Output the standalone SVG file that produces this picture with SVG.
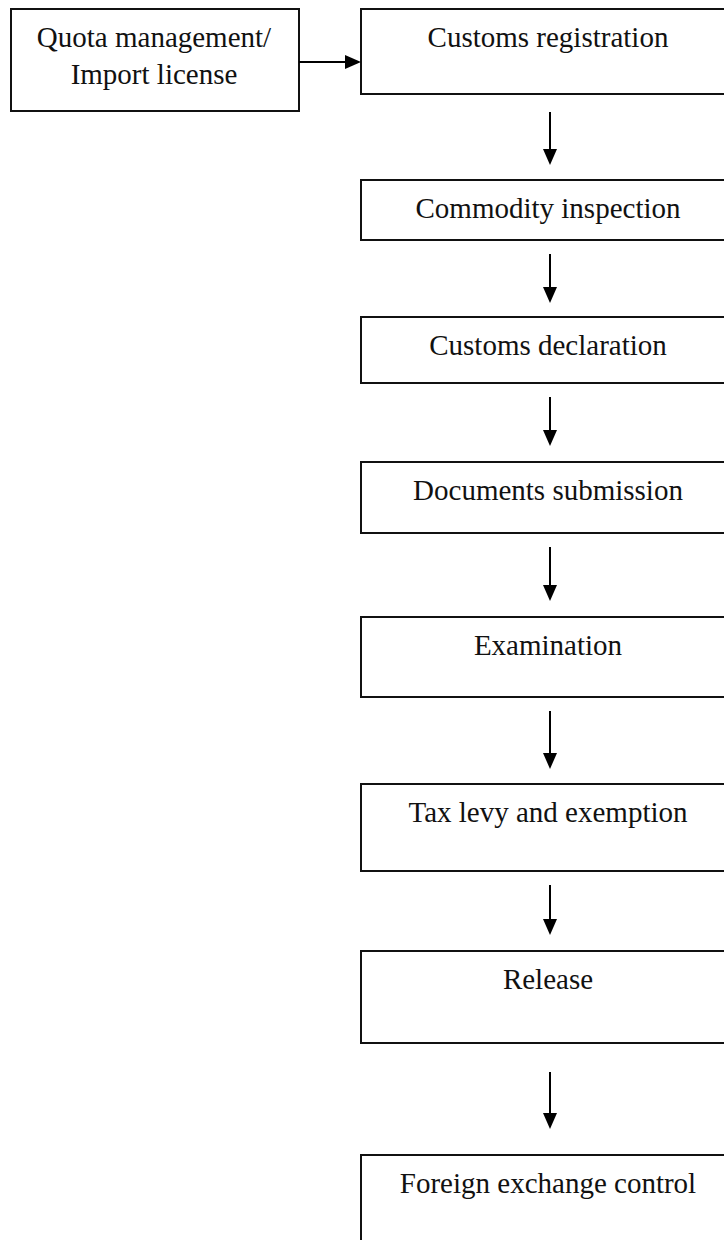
<svg xmlns="http://www.w3.org/2000/svg" width="724" height="1240" viewBox="0 0 724 1240">
  <style>
    .box { fill: #ffffff; stroke: #111111; stroke-width: 2; }
    .lbl { font-family: "Liberation Serif", "Times New Roman", serif; font-size: 29px; fill: #111111; text-anchor: middle; }
    .conn { stroke: #000000; stroke-width: 2; fill: none; marker-end: url(#arrow); }
  </style>
  <defs>
    <marker id="arrow" markerUnits="userSpaceOnUse" markerWidth="16" markerHeight="14" refX="8" refY="7" orient="auto">
      <path d="M0,0 L16,7 L0,14 z" fill="#000000"/>
    </marker>
  </defs>
  <rect x="0" y="0" width="724" height="1240" fill="#ffffff"/>

  <g id="n-quota">
    <rect class="box" x="11" y="9" width="288" height="102"/>
    <text class="lbl" x="154" y="47">Quota management/</text>
    <text class="lbl" x="154" y="84">Import license</text>
  </g>
  <g id="n-registration">
    <rect class="box" x="361" y="9" width="380" height="85"/>
    <text class="lbl" x="548" y="47">Customs registration</text>
  </g>
  <g id="n-inspection">
    <rect class="box" x="361" y="180" width="380" height="60"/>
    <text class="lbl" x="548" y="218">Commodity inspection</text>
  </g>
  <g id="n-declaration">
    <rect class="box" x="361" y="317" width="380" height="66"/>
    <text class="lbl" x="548" y="355">Customs declaration</text>
  </g>
  <g id="n-documents">
    <rect class="box" x="361" y="462" width="380" height="71"/>
    <text class="lbl" x="548" y="500">Documents submission</text>
  </g>
  <g id="n-examination">
    <rect class="box" x="361" y="617" width="380" height="80"/>
    <text class="lbl" x="548" y="655">Examination</text>
  </g>
  <g id="n-tax">
    <rect class="box" x="361" y="784" width="380" height="87"/>
    <text class="lbl" x="548" y="822">Tax levy and exemption</text>
  </g>
  <g id="n-release">
    <rect class="box" x="361" y="951" width="380" height="92"/>
    <text class="lbl" x="548" y="989">Release</text>
  </g>
  <g id="n-forex">
    <rect class="box" x="361" y="1155" width="380" height="100"/>
    <text class="lbl" x="548" y="1193">Foreign exchange control</text>
  </g>

  <g id="connectors">
    <line class="conn" x1="299" y1="62" x2="353" y2="62"/>
    <line class="conn" x1="550" y1="112" x2="550" y2="157"/>
    <line class="conn" x1="550" y1="254" x2="550" y2="295"/>
    <line class="conn" x1="550" y1="397" x2="550" y2="438"/>
    <line class="conn" x1="550" y1="547" x2="550" y2="593"/>
    <line class="conn" x1="550" y1="711" x2="550" y2="761"/>
    <line class="conn" x1="550" y1="885" x2="550" y2="927"/>
    <line class="conn" x1="550" y1="1072" x2="550" y2="1121"/>
  </g>
</svg>
